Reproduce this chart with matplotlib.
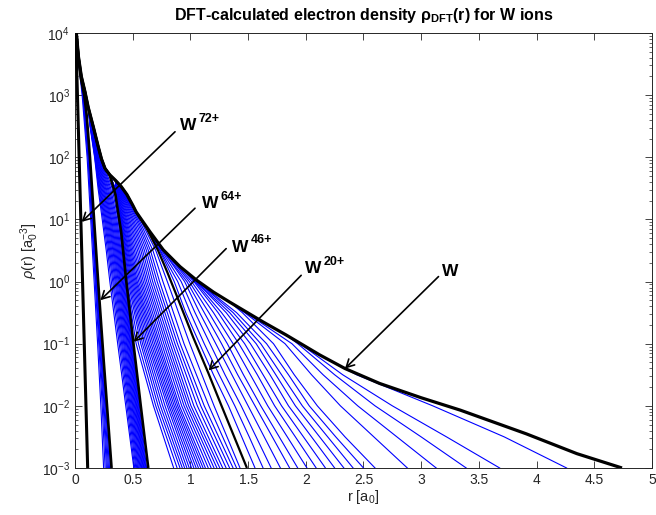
import numpy as np
import matplotlib
matplotlib.use("Agg")
import matplotlib.pyplot as plt

plt.rcParams['font.family'] = ['Liberation Sans', 'DejaVu Sans']
plt.rcParams['mathtext.fontset'] = 'custom'
plt.rcParams['mathtext.rm'] = 'Liberation Sans'
plt.rcParams['mathtext.it'] = 'Liberation Sans:italic'
plt.rcParams['mathtext.bf'] = 'Liberation Sans:bold'

nan = np.nan

# ---- neutral W (black, outermost), r [a0] vs log10 rho ----
w_r = np.array([0.000, 0.012, 0.030, 0.055, 0.087, 0.115, 0.160, 0.200, 0.230,
                0.260, 0.300, 0.350, 0.400, 0.450, 0.500, 0.530, 0.650, 0.765,
                0.910, 1.055, 1.200, 1.340, 1.630, 1.830, 2.120, 2.340, 2.640,
                3.000, 3.340, 3.910, 4.350, 4.740])
w_log = np.array([4.45, 4.00, 3.62, 3.30, 3.05, 2.80, 2.48, 2.18, 1.97,
                  1.82, 1.72, 1.63, 1.53, 1.40, 1.23, 1.12, 0.80, 0.51,
                  0.24, 0.02, -0.17, -0.33, -0.65, -0.86, -1.18, -1.40, -1.64,
                  -1.87, -2.07, -2.45, -2.77, -3.00])

# ---- other black curves (tails after they leave the W curve) ----
w20_r = np.array([0.62, 0.72, 0.80, 0.88, 1.025, 1.155, 1.27, 1.49])
w20_log = np.array([0.86, 0.50, 0.15, -0.22, -0.90, -1.47, -2.00, -3.00])

w46_r = np.array([0.35, 0.40, 0.445, 0.507, 0.57, 0.635])
w46_log = np.array([1.40, 0.80, 0.00, -1.00, -2.00, -3.00])

w64_r = np.array([0.000, 0.012, 0.030, 0.050, 0.080, 0.100, 0.130, 0.160, 0.200, 0.250, 0.317])
w64_log = np.array([4.45, 4.00, 3.60, 3.28, 3.00, 2.70, 2.00, 1.15, 0.02, -1.30, -3.00])

w72_r = np.array([0.000, 0.050, 0.110])
w72_log = np.array([4.45, 1.05, -3.00])

# ---- blue curves: radius where each ion crosses the given log10 levels ----
fan1_levels = np.array([1.0, 0.5, 0.0, -0.5, -1.0, -1.5, -2.0, -2.5, -3.0])
fan1_r = np.array([  # W1+ ... W19+
    [nan, nan, nan, nan, nan, 2.44, 3.10, 3.72, 4.26],
    [nan, nan, nan, nan, 1.95, 2.32, 2.75, 3.22, 3.68],
    [nan, nan, nan, nan, 1.93, 2.25, 2.60, 3.00, 3.39],
    [nan, nan, nan, 1.48, 1.88, 2.15, 2.45, 2.79, 3.13],
    [nan, nan, nan, 1.47, 1.82, 2.05, 2.30, 2.59, 2.88],
    [nan, nan, nan, 1.45, 1.72, 1.90, 2.10, 2.34, 2.60],
    [nan, nan, 1.06, 1.40, 1.66, 1.85, 2.03, 2.26, 2.50],
    [nan, nan, 1.06, 1.37, 1.61, 1.79, 1.97, 2.19, 2.41],
    [nan, nan, 1.05, 1.34, 1.57, 1.74, 1.91, 2.12, 2.33],
    [nan, nan, 1.05, 1.31, 1.52, 1.69, 1.85, 2.05, 2.25],
    [nan, nan, 1.04, 1.27, 1.47, 1.63, 1.79, 1.98, 2.17],
    [nan, nan, 1.03, 1.24, 1.42, 1.58, 1.73, 1.91, 2.09],
    [nan, 0.77, 1.01, 1.20, 1.37, 1.52, 1.67, 1.84, 2.01],
    [nan, 0.77, 0.99, 1.16, 1.32, 1.46, 1.61, 1.77, 1.93],
    [nan, 0.76, 0.97, 1.12, 1.27, 1.41, 1.56, 1.71, 1.86],
    [nan, 0.76, 0.95, 1.08, 1.22, 1.36, 1.50, 1.64, 1.78],
    [nan, 0.75, 0.92, 1.04, 1.17, 1.30, 1.44, 1.57, 1.70],
    [0.575, 0.74, 0.89, 1.00, 1.12, 1.25, 1.385, 1.51, 1.63],
    [0.575, 0.735, 0.86, 0.96, 1.08, 1.20, 1.33, 1.445, 1.56],
])

fan2_levels = np.array([1.5, 1.0, 0.5, 0.0, -1.0, -2.0, -3.0])
fan2_r = np.array([  # W21+ ... W45+
    [0.410, 0.565, 0.700, 0.800, 0.995, 1.205, 1.43],
    [0.408, 0.554, 0.675, 0.762, 0.945, 1.160, 1.40],
    [0.405, 0.543, 0.654, 0.733, 0.912, 1.120, 1.37],
    [0.402, 0.532, 0.636, 0.712, 0.888, 1.090, 1.34],
    [0.399, 0.520, 0.619, 0.692, 0.866, 1.060, 1.31],
    [0.395, 0.508, 0.602, 0.673, 0.845, 1.030, 1.28],
    [0.391, 0.497, 0.586, 0.655, 0.825, 1.005, 1.255],
    [0.387, 0.486, 0.571, 0.638, 0.806, 0.985, 1.23],
    [0.383, 0.475, 0.556, 0.622, 0.788, 0.965, 1.205],
    [0.379, 0.465, 0.542, 0.607, 0.770, 0.945, 1.18],
    [0.375, 0.455, 0.528, 0.592, 0.752, 0.925, 1.155],
    [0.371, 0.446, 0.515, 0.578, 0.735, 0.905, 1.13],
    [0.367, 0.438, 0.503, 0.565, 0.720, 0.890, 1.11],
    [0.363, 0.430, 0.492, 0.552, 0.705, 0.875, 1.09],
    [0.360, 0.423, 0.482, 0.540, 0.690, 0.860, 1.07],
    [0.356, 0.416, 0.472, 0.530, 0.675, 0.845, 1.05],
    [0.353, 0.410, 0.463, 0.520, 0.660, 0.830, 1.03],
    [0.350, 0.405, 0.455, 0.510, 0.645, 0.815, 1.01],
    [0.348, 0.400, 0.447, 0.500, 0.630, 0.800, 0.99],
    [0.346, 0.397, 0.440, 0.490, 0.615, 0.780, 0.97],
    [0.344, 0.393, 0.433, 0.480, 0.600, 0.760, 0.95],
    [0.342, 0.390, 0.427, 0.470, 0.585, 0.740, 0.93],
    [0.340, 0.387, 0.422, 0.460, 0.570, 0.720, 0.91],
    [0.340, 0.385, 0.418, 0.450, 0.550, 0.700, 0.885],
    [0.340, 0.383, 0.415, 0.445, 0.530, 0.680, 0.855],
])

fan3_levels = np.array([2.5, 2.0, 1.5, 1.0, 0.5, 0.0, -1.0, -2.0, -3.0])
fan3_r = np.array([  # W47+ ... W63+
    [0.158, 0.226, 0.322, 0.373, 0.408, 0.438, 0.498, 0.558, 0.620],
    [0.156, 0.222, 0.310, 0.363, 0.400, 0.432, 0.492, 0.552, 0.614],
    [0.154, 0.218, 0.300, 0.354, 0.392, 0.425, 0.486, 0.546, 0.608],
    [0.152, 0.214, 0.290, 0.345, 0.384, 0.418, 0.480, 0.540, 0.602],
    [0.150, 0.210, 0.281, 0.336, 0.376, 0.411, 0.474, 0.534, 0.596],
    [0.148, 0.206, 0.272, 0.327, 0.368, 0.404, 0.467, 0.528, 0.590],
    [0.146, 0.202, 0.264, 0.318, 0.360, 0.397, 0.460, 0.522, 0.584],
    [0.144, 0.198, 0.256, 0.310, 0.352, 0.390, 0.453, 0.515, 0.578],
    [0.142, 0.194, 0.249, 0.302, 0.344, 0.382, 0.446, 0.508, 0.571],
    [0.140, 0.190, 0.242, 0.294, 0.336, 0.374, 0.438, 0.501, 0.564],
    [0.138, 0.186, 0.235, 0.286, 0.328, 0.365, 0.430, 0.494, 0.557],
    [0.137, 0.183, 0.228, 0.278, 0.319, 0.356, 0.422, 0.486, 0.550],
    [0.135, 0.180, 0.222, 0.270, 0.310, 0.347, 0.413, 0.478, 0.543],
    [0.134, 0.177, 0.216, 0.262, 0.301, 0.337, 0.404, 0.470, 0.535],
    [0.133, 0.175, 0.211, 0.254, 0.292, 0.327, 0.394, 0.461, 0.527],
    [0.132, 0.172, 0.206, 0.245, 0.282, 0.315, 0.383, 0.451, 0.518],
    [0.130, 0.170, 0.200, 0.236, 0.271, 0.302, 0.370, 0.440, 0.510],
])

fan4_levels = np.array([3.5, 3.0, 2.0, 1.0, 0.0, -1.0, -2.0, -3.0])
fan4_r = np.array([  # W65+ ... W71+
    [0.040, 0.079, 0.128, 0.162, 0.197, 0.234, 0.271, 0.308],
    [0.039, 0.077, 0.125, 0.159, 0.193, 0.229, 0.265, 0.299],
    [0.038, 0.075, 0.122, 0.156, 0.189, 0.224, 0.259, 0.290],
    [0.037, 0.072, 0.119, 0.152, 0.185, 0.219, 0.252, 0.281],
    [0.036, 0.070, 0.116, 0.148, 0.180, 0.213, 0.245, 0.272],
    [0.035, 0.067, 0.112, 0.144, 0.175, 0.206, 0.236, 0.261],
    [0.033, 0.062, 0.105, 0.136, 0.166, 0.196, 0.224, 0.248],
])

# ---- arrow annotations: superscript, W baseline position, arrow start, arrow tip ----
ann_sup = ['72+', '64+', '46+', '20+', '']
ann_text = [(0.91, 2.44), (1.10, 1.18), (1.36, 0.48), (1.99, 0.135), (3.18, 0.087)]
ann_start = [(0.867, 2.41), (1.04, 1.18), (1.31, 0.53), (1.96, 0.10), (3.15, 0.08)]
ann_tip = [(0.058, 0.96), (0.220, -0.30), (0.508, -0.97), (1.158, -1.43), (2.34, -1.40)]


def on_w(tail_r, tail_log):
    keep = w_r < tail_r[0]
    return np.r_[w_r[keep], tail_r], np.r_[w_log[keep], tail_log]


def from_table(row, levels):
    ok = ~np.isnan(row)
    return on_w(row[ok], levels[ok])


fig = plt.figure(figsize=(6.56, 5.15), dpi=100)
ax = fig.add_axes([0.1143, 0.0913, 0.8796, 0.8447])

blue = (0, 0, 1)
for table, levels in [(fan1_r, fan1_levels), (fan2_r, fan2_levels),
                      (fan3_r, fan3_levels), (fan4_r, fan4_levels)]:
    for row in table:
        r, lg = from_table(row, levels)
        ax.plot(r, 10 ** lg, color=blue, lw=0.8, zorder=2)

black_curves = [
    (w_r, w_log, 2.3),
    (*on_w(w20_r, w20_log), 1.6),
    (*on_w(w46_r, w46_log), 1.9),
    (w64_r, w64_log, 1.9),
    (w72_r, w72_log, 2.2),
]
for r, lg, lw in black_curves:
    ax.plot(r, 10 ** lg, color='k', lw=lw, zorder=3, solid_capstyle='butt')

for sup, tpos, s, t in zip(ann_sup, ann_text, ann_start, ann_tip):
    ax.annotate('', xy=(t[0], 10 ** t[1]), xytext=(s[0], 10 ** s[1]),
                arrowprops=dict(arrowstyle='->,head_length=0.55,head_width=0.3',
                                lw=1.2, color='k', shrinkA=0, shrinkB=0), zorder=4)
    ax.text(tpos[0], 10 ** tpos[1], 'W', fontsize=12.5, fontweight='bold',
            va='baseline', ha='left', zorder=5)
    if sup:
        ax.annotate(sup, xy=(tpos[0], 10 ** tpos[1]), xytext=(13.5, 6),
                    textcoords='offset points', fontsize=9, fontweight='bold',
                    va='baseline', ha='left', zorder=5)

ax.set_yscale('log')
ax.set_xlim(0, 5)
ax.set_ylim(1e-3, 1e4)
ax.set_xticks(np.arange(0, 5.01, 0.5))
ax.set_xticklabels(['0', '0.5', '1', '1.5', '2', '2.5', '3', '3.5', '4', '4.5', '5'])
ax.set_yticks([10.0 ** k for k in range(-3, 5)])
ax.tick_params(which='both', direction='in', top=True, right=True,
               colors='#262626', labelsize=10)
ax.tick_params(which='major', length=5, width=0.6)
ax.tick_params(which='minor', length=2.5, width=0.5)
for sp in ax.spines.values():
    sp.set_color('#262626')
    sp.set_linewidth(0.7)

ax.set_xlabel(r'r [a$_0$]', fontsize=10.5, color='#262626', labelpad=1)
ax.set_ylabel(r'$\rho$(r) [a$_0^{-3}$]', fontsize=10.5, color='#262626', labelpad=1)
ax.set_title(r'DFT-calculated electron density $\mathbf{\rho_{DFT}}$(r) for W ions',
             fontsize=11.5, fontweight='bold', pad=9)

fig.savefig('out.png', dpi=100)
